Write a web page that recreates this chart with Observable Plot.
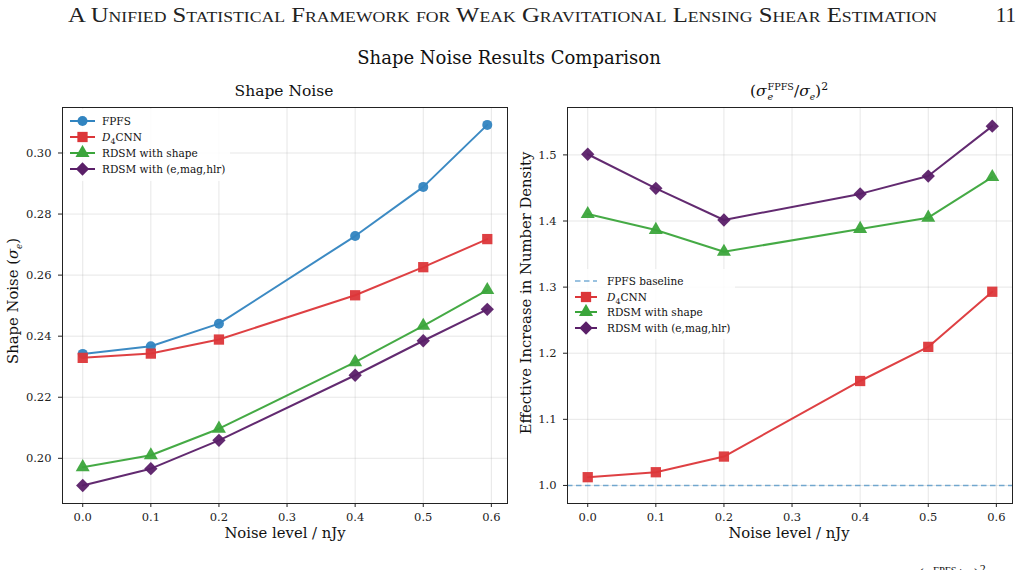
<!DOCTYPE html>
<html><head><meta charset="utf-8">
<script src="https://cdn.jsdelivr.net/npm/d3@7"></script>
<script src="https://cdn.jsdelivr.net/npm/@observablehq/plot@0.6"></script>
<style>
html,body{margin:0;padding:0;background:#fff;}
#page{position:relative;width:1024px;height:570px;overflow:hidden;font-family:"DejaVu Serif",serif;color:#111;}
.abs{position:absolute;white-space:nowrap;line-height:1;}
.c{transform:translate(-50%,-50%);}
.rot{transform:translate(-50%,-50%) rotate(-90deg);}
.leg{position:absolute;background:rgba(255,255,255,0.85);}
.row{position:absolute;display:flex;align-items:center;height:16px;font-size:10.5px;white-space:nowrap;}
.row svg{display:block;}
sub,sup{line-height:0;}
.ss{display:inline-flex;flex-direction:column;vertical-align:middle;font-size:0.62em;line-height:1.05;margin-left:1px;}
</style></head>
<body><div id="page"></div>
<script>
// ---------- data ----------
const noiseLevels = [0.0, 0.1, 0.2, 0.4, 0.5, 0.594];
const seriesNames = ["FPFS", "D4CNN", "RDSM with shape", "RDSM with (e,mag,hlr)"];
// Left panel: shape noise sigma_e
const shapeFPFS      = [0.2342, 0.2367, 0.2441, 0.2728, 0.2889, 0.3092];
const shapeD4CNN     = [0.2329, 0.2343, 0.2389, 0.2534, 0.2626, 0.2718];
const shapeRDSMShape = [0.1971, 0.2010, 0.2097, 0.2315, 0.2434, 0.2551];
const shapeRDSMFull  = [0.1911, 0.1966, 0.2059, 0.2272, 0.2385, 0.2488];
// Right panel: (sigma_FPFS / sigma)^2
const densD4CNN      = [1.0125, 1.0200, 1.0437, 1.1580, 1.2096, 1.2930];
const densRDSMShape  = [1.4105, 1.3865, 1.3535, 1.3880, 1.4050, 1.4665];
const densRDSMFull   = [1.5010, 1.4495, 1.4015, 1.4410, 1.4680, 1.5435];
const baselineValue  = 1.0;
const xTicks = [0, 0.1, 0.2, 0.3, 0.4, 0.5, 0.6];
const leftYTicks = [0.20, 0.22, 0.24, 0.26, 0.28, 0.30];
const rightYTicks = [1.0, 1.1, 1.2, 1.3, 1.4, 1.5];

// ---------- styles ----------
const colors = ["#3184c0", "#dc3639", "#3ba53b", "#5a1f68"];
const symbols = ["circle", "square", "triangle", "diamond2"];
const radii = [5, 5.8, 5.2, 6.0];

const page = document.getElementById("page");
function add(html, cls, style) {
  const d = document.createElement("div");
  d.className = "abs " + (cls || "");
  d.innerHTML = html;
  Object.assign(d.style, style);
  page.appendChild(d);
  return d;
}

function makeTable(vals) { return noiseLevels.map((x, i) => ({x, y: vals[i]})); }

function panel(opts) {
  const marks = [
    Plot.gridX(xTicks, {stroke: "#b0b0b0", strokeOpacity: 0.3, strokeWidth: 1}),
    Plot.gridY(opts.yTicks, {stroke: "#b0b0b0", strokeOpacity: 0.3, strokeWidth: 1}),
  ];
  if (opts.baseline != null) {
    marks.push(Plot.ruleY([opts.baseline], {stroke: colors[0], strokeOpacity: 0.65, strokeWidth: 1.5, strokeDasharray: "5.5,3.5"}));
  }
  opts.series.forEach(s => {
    const data = makeTable(s.vals);
    marks.push(Plot.line(data, {x: "x", y: "y", stroke: colors[s.k], strokeWidth: 2, strokeOpacity: 0.95}));
    marks.push(Plot.dot(data, {x: "x", y: "y", symbol: () => symbols[s.k], fill: colors[s.k], fillOpacity: 0.95, stroke: "none", r: radii[s.k]}));
  });
  marks.push(Plot.axisX({ticks: xTicks, tickFormat: d3.format(".1f"), tickSize: 4, tickPadding: 5, label: null, stroke: "#222"}));
  marks.push(Plot.axisY({ticks: opts.yTicks, tickFormat: d3.format(opts.yFmt), tickSize: 4, tickPadding: 7, label: null, stroke: "#222"}));
  marks.push(Plot.frame({stroke: "#222", strokeWidth: 1}));
  const svg = Plot.plot({
    width: 512, height: 470,
    marginLeft: opts.ml, marginRight: opts.mr, marginTop: 27, marginBottom: 47,
    x: {domain: [-0.0297, 0.6237]},
    y: {domain: opts.yDomain},
    symbol: {type: "identity"},
    style: {fontFamily: "DejaVu Serif", fontSize: "11.5px", color: "#222", background: "transparent", overflow: "visible"},
    marks
  });
  svg.style.position = "absolute";
  svg.style.left = opts.left + "px";
  svg.style.top = "80px";
  page.appendChild(svg);
}

panel({
  left: 0, ml: 62, mr: 5,
  yDomain: [0.1852, 0.3149], yTicks: leftYTicks, yFmt: ".2f",
  series: [
    {k: 0, vals: shapeFPFS},
    {k: 1, vals: shapeD4CNN},
    {k: 2, vals: shapeRDSMShape},
    {k: 3, vals: shapeRDSMFull}
  ]
});
panel({
  left: 512, ml: 55, mr: 12,
  yDomain: [0.9727, 1.5717], yTicks: rightYTicks, yFmt: ".1f",
  baseline: baselineValue,
  series: [
    {k: 1, vals: densD4CNN},
    {k: 2, vals: densRDSMShape},
    {k: 3, vals: densRDSMFull}
  ]
});

// ---------- header & titles ----------
const hdr = document.createElementNS("http://www.w3.org/2000/svg", "svg");
hdr.setAttribute("width", 1024); hdr.setAttribute("height", 34);
hdr.style.position = "absolute"; hdr.style.left = "0"; hdr.style.top = "0";
hdr.innerHTML = '<text x="68" y="22" textLength="869" lengthAdjust="spacingAndGlyphs" font-family="Liberation Serif" font-size="21" style="font-variant:small-caps" fill="#222">A Unified Statistical Framework for Weak Gravitational Lensing Shear Estimation</text>' +
  '<text x="1016" y="22" text-anchor="end" font-family="Liberation Serif" font-size="21" fill="#222">11</text>';
page.appendChild(hdr);

add("Shape Noise Results Comparison", "c", {left: "509px", top: "58px", fontSize: "18px"});
add("Shape Noise", "c", {left: "284px", top: "92px", fontSize: "15.5px"});
add('(<i>σ</i><span class="ss"><span>FPFS</span><i>e</i></span>/<i>σ</i><sub><i style="font-size:0.7em">e</i></sub>)<sup style="font-size:0.7em">2</sup>', "c", {left: "789px", top: "92px", fontSize: "15.5px"});

add("Noise level / nJy", "c", {left: "285px", top: "533px", fontSize: "14.8px"});
add("Noise level / nJy", "c", {left: "789px", top: "533px", fontSize: "14.8px"});
add('Shape Noise (<i>σ</i><sub><i style="font-size:0.7em">e</i></sub>)', "rot", {left: "13px", top: "301px", fontSize: "14.8px"});
add("Effective Increase in Number Density", "rot", {left: "526px", top: "293px", fontSize: "14.8px"});

// bottom caption fragment (cut by the page edge in the reference)
add('(<i>σ</i><span class="ss"><span>FPFS</span><i>e</i></span>/<i>σ</i><sub><i style="font-size:0.7em">e</i></sub>)<sup style="font-size:0.7em">2</sup>', "", {left: "918px", top: "565px", fontSize: "17px", fontFamily: "Liberation Serif"});

// ---------- legends ----------
const labelsHTML = ["FPFS", "<i>D</i><sub style='font-size:0.75em'>4</sub>CNN", "RDSM with shape", "RDSM with (e,mag,hlr)"];
function handle(k, w, dashed) {
  const mid = w / 2;
  let s = `<svg width="${w}" height="16">`;
  if (dashed) {
    s += `<line x1="0" y1="8" x2="${w}" y2="8" stroke="${colors[0]}" stroke-opacity="0.65" stroke-width="1.5" stroke-dasharray="5.5,3.5"/>`;
  } else {
    const sym = d3.symbol(({circle: d3.symbolCircle, square: d3.symbolSquare, triangle: d3.symbolTriangle, diamond2: d3.symbolDiamond2})[symbols[k]], Math.PI * radii[k] * radii[k])();
    s += `<line x1="0" y1="8" x2="${w}" y2="8" stroke="${colors[k]}" stroke-width="2"/>`;
    s += `<path d="${sym}" transform="translate(${mid},8)" fill="${colors[k]}"/>`;
  }
  return s + "</svg>";
}
function legend(items, x, y0, dy, w, gap, boxW, boxH) {
  const box = document.createElement("div");
  box.className = "leg";
  Object.assign(box.style, {left: (x - 5) + "px", top: (y0 - 12) + "px", width: boxW + "px", height: boxH + "px"});
  page.appendChild(box);
  items.forEach((it, i) => {
    const r = document.createElement("div");
    r.className = "row";
    Object.assign(r.style, {left: x + "px", top: (y0 + i * dy - 8) + "px"});
    r.innerHTML = handle(it.k, w, it.dashed) + `<span style="margin-left:${gap}px">${it.html}</span>`;
    page.appendChild(r);
  });
}
legend([
  {k: 0, html: labelsHTML[0]},
  {k: 1, html: labelsHTML[1]},
  {k: 2, html: labelsHTML[2]},
  {k: 3, html: labelsHTML[3]}
], 70, 121, 16, 25, 7, 165, 72);
legend([
  {k: 0, dashed: true, html: "FPFS baseline"},
  {k: 1, html: labelsHTML[1]},
  {k: 2, html: labelsHTML[2]},
  {k: 3, html: labelsHTML[3]}
], 575, 281, 15.7, 22, 10, 165, 70);
</script>
</body></html>
